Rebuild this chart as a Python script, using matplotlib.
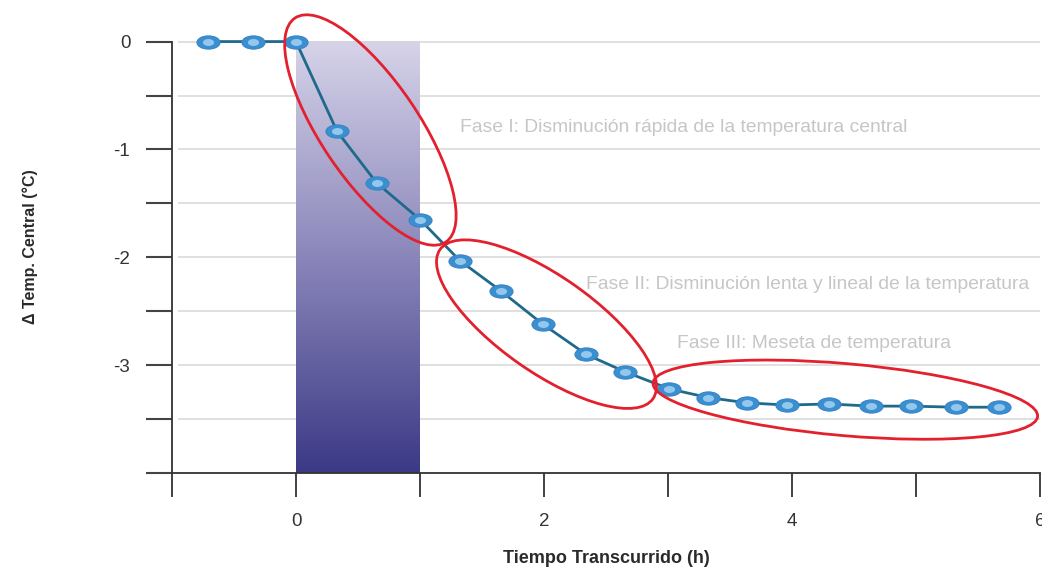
import matplotlib
matplotlib.use("Agg")
import matplotlib.pyplot as plt
import numpy as np
from matplotlib.colors import LinearSegmentedColormap
from matplotlib.markers import MarkerStyle
from matplotlib.patches import Ellipse
from matplotlib.transforms import Affine2D, ScaledTranslation

plt.rcParams["font.family"] = ["Liberation Sans", "DejaVu Sans"]
plt.rcParams["axes.unicode_minus"] = False

# datos
tiempo_h = [-0.71, -0.35, 0.0, 0.33, 0.65, 1.0, 1.32, 1.65, 1.99, 2.34, 2.65,
            3.01, 3.32, 3.64, 3.96, 4.30, 4.64, 4.96, 5.32, 5.67]
delta_temp = [0.0, 0.0, 0.0, -0.83, -1.31, -1.65, -2.03, -2.31, -2.62, -2.90, -3.06,
              -3.22, -3.30, -3.35, -3.37, -3.36, -3.38, -3.38, -3.39, -3.39]

zona_enfriamiento = (0.0, 1.0)
y_ticks = np.arange(-4.0, 0.01, 0.5)
y_labels = ["" if (v % 1 or v == -4) else f"{int(v)}" for v in y_ticks]
x_ticks = [-1, 0, 1, 2, 3, 4, 5, 6]
x_labels = ["", "0", "", "2", "", "4", "", "6"]

fases = [
    (1.32, -0.80, "Fase I: Disminución rápida de la temperatura central"),
    (2.34, -2.25, "Fase II: Disminución lenta y lineal de la temperatura"),
    (3.07, -2.80, "Fase III: Meseta de temperatura"),
]
# centro (datos), ancho/alto (pulgadas), ángulo (grados)
elipses = [
    ((0.60, -0.82), 2.70, 0.98, -56),
    ((2.02, -2.62), 2.60, 0.96, -35),
    ((4.43, -3.32), 3.86, 0.72, -5),
]

fig = plt.figure(figsize=(10.42, 5.69), dpi=100)
ax = fig.add_axes([172 / 1042, 96 / 569, 868 / 1042, 453 / 569])
ax.set_xlim(-1, 6)
ax.set_ylim(-4, 0.2)

# gradiente de la zona sombreada
cmap = LinearSegmentedColormap.from_list("lav", ["#3c3986", "#8a86ba", "#d6d3e9"])
grad = np.linspace(0, 1, 256).reshape(-1, 1)
ax.imshow(grad, extent=[zona_enfriamiento[0], zona_enfriamiento[1], -4, 0],
          origin="lower", cmap=cmap, aspect="auto", zorder=1)

ax.hlines(y_ticks[1:], -0.95, 6, color="#dadada", lw=1.2, zorder=0.5)

ax.plot(tiempo_h, delta_temp, color="#1d6a8c", lw=2.0, zorder=3)
m_ext = MarkerStyle("o", transform=Affine2D().scale(1.75, 1.0))
m_int = MarkerStyle("o", transform=Affine2D().scale(1.6, 1.0))
ax.plot(tiempo_h, delta_temp, ls="none", marker=m_ext, ms=9.5, mfc="#3a8fd0",
        mec="#3a84c4", mew=0.8, zorder=4)
ax.plot(tiempo_h, delta_temp, ls="none", marker=m_int, ms=5, mfc="#a3d3f2",
        mec="none", alpha=0.85, zorder=5)

for (cx, cy), w, h, ang in elipses:
    tr = fig.dpi_scale_trans + ScaledTranslation(cx, cy, ax.transData)
    ax.add_patch(Ellipse((0, 0), w, h, angle=ang, transform=tr, fill=False,
                         ec="#e3202e", lw=2.0, zorder=6, clip_on=False))

for x, y, txt in fases:
    ax.text(x, y, txt, color="#c6c6c6", fontsize=13.9, va="center", ha="left",
            zorder=7)

for side in ["top", "right"]:
    ax.spines[side].set_visible(False)
ax.spines["left"].set_bounds(-4, 0)
for side in ["left", "bottom"]:
    ax.spines[side].set_linewidth(1.3)
    ax.spines[side].set_color("#333333")

ax.set_yticks(y_ticks)
ax.set_yticklabels(y_labels)
ax.set_xticks(x_ticks)
ax.set_xticklabels(x_labels)
ax.tick_params(axis="y", direction="out", length=19, width=1.5, color="#444444",
               pad=11, labelsize=13.5, labelcolor="#333333")
ax.tick_params(axis="x", direction="out", length=17, width=1.3, color="#333333",
               pad=12, labelsize=13.5, labelcolor="#333333")

ax.set_xlabel("Tiempo Transcurrido (h)", fontsize=13, fontweight="bold",
              color="#2a2a2a", labelpad=14)
ax.set_ylabel("Δ Temp. Central (°C)", fontsize=11.5, fontweight="bold",
              color="#2a2a2a", labelpad=54)

fig.savefig("out.png", dpi=100)
